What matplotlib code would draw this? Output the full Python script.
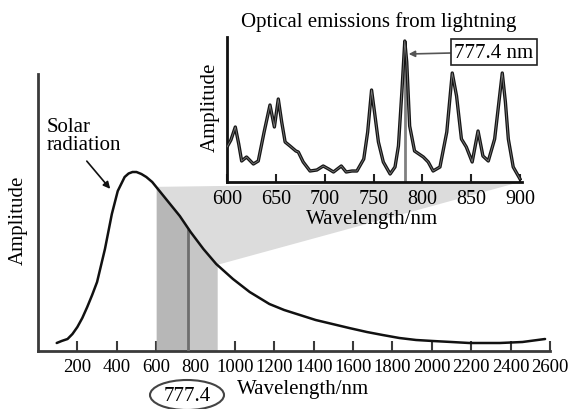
import numpy as np
import matplotlib
matplotlib.use("Agg")
import matplotlib.pyplot as plt
from matplotlib.patches import Polygon, Ellipse

plt.rcParams['font.family'] = ['Liberation Serif', 'DejaVu Serif']

# ---------------- data ----------------
# solar radiation curve (main chart), amplitude in arbitrary units
solar_nm = [95, 120, 150, 175, 200, 225, 250, 275, 300, 340, 375, 405, 440, 460, 480, 500,
            525, 550, 580, 650, 720, 775, 840, 905, 990, 1075, 1175, 1250, 1330, 1410,
            1495, 1580, 1670, 1750, 1835, 1920, 2005, 2100, 2190, 2270, 2345, 2460, 2575]
solar_amp = [8, 10, 12, 17, 24, 33, 44, 56, 69, 102, 137, 160, 174, 177.5, 179, 179,
             177, 174, 169, 152, 135, 119, 102, 87, 72, 59, 47, 41, 36, 31,
             27, 23, 19, 16, 13, 11, 10, 9, 8, 8, 8, 9, 12]

main_ticks = [200, 400, 600, 800, 1000, 1200, 1400, 1600, 1800, 2000, 2200, 2400, 2600]
band_range = [600, 910]
marker_main_nm = 763

# lightning optical emission spectrum (inset)
spec_nm = [600, 604, 608.5, 612, 615, 620, 624, 627, 632, 638, 644, 648.5, 652.5, 656,
           659.5, 664.5, 670.5, 673, 678, 685, 692, 698.5, 704, 709, 713, 717, 722, 728,
           733, 740, 744, 748, 751, 755, 760, 767, 772, 775.5, 779, 782, 784, 787, 792,
           801, 806, 811, 818, 825, 830.6, 835, 840, 845, 851, 857, 862, 867.5, 874,
           881.8, 885, 888, 893, 900]
spec_amp = [35, 42, 55, 38, 21, 25, 21, 18, 21, 50, 77, 55, 83, 60,
            40, 36, 31, 30, 20, 11, 12, 16, 13, 10, 13, 16, 10, 11,
            11, 23, 50, 92, 70, 40, 20, 8, 15, 36, 90, 141, 120, 56, 31,
            25, 20, 11, 15, 50, 109, 86, 43, 35, 20, 51, 26, 21, 43,
            109, 80, 43, 15, 3]
inset_ticks = [600, 650, 700, 750, 800, 850, 900]
marker_inset_nm = 782

# ---------------- figure ----------------
W, H = 568, 410
fig = plt.figure(figsize=(W / 100, H / 100), dpi=100)


def fx(p):
    return p / W


def fy(p):
    return 1 - p / H


ax = fig.add_axes([fx(38), fy(352), (550 - 38) / W, (352 - 75) / H])
ax.set_xlim(0, 2600)
ax.set_ylim(0, 277)
for s in ['top', 'right']:
    ax.spines[s].set_visible(False)
for s in ['left', 'bottom']:
    ax.spines[s].set_color('#3a3a3a')
    ax.spines[s].set_linewidth(2)
ax.set_yticks([])
ax.set_xticks(main_ticks)
ax.set_xticklabels([str(t) for t in main_ticks])
ax.tick_params(axis='x', direction='in', length=7, width=1.5, color='#3a3a3a',
               labelsize=13.5, pad=5)

ax.plot(solar_nm, solar_amp, color='#111111', lw=1.8, zorder=4,
        solid_joinstyle='round', solid_capstyle='round')

# shaded band under the curve
xs1 = np.array([band_range[0]] + [v for v in solar_nm if band_range[0] < v < marker_main_nm] + [marker_main_nm])
ax.fill_between(xs1, 0, np.interp(xs1, solar_nm, solar_amp), color='#b7b7b7', lw=0, zorder=2)
xs2 = np.array([marker_main_nm] + [v for v in solar_nm if marker_main_nm < v < band_range[1]] + [band_range[1]])
ax.fill_between(xs2, 0, np.interp(xs2, solar_nm, solar_amp), color='#c6c6c6', lw=0, zorder=2)
ax.vlines(marker_main_nm, 0, np.interp(marker_main_nm, solar_nm, solar_amp),
          color='#6e6e6e', lw=2, zorder=3)

# inset
axi = fig.add_axes([fx(227), fy(183), (522 - 227) / W, (183 - 38) / H])
axi.set_facecolor('none')
axi.set_xlim(600, 902)
axi.set_ylim(0, 145)
for s in ['top', 'right']:
    axi.spines[s].set_visible(False)
for s in ['left', 'bottom']:
    axi.spines[s].set_color('#111111')
    axi.spines[s].set_linewidth(2)
axi.set_yticks([])
axi.set_xticks(inset_ticks)
axi.set_xticklabels([str(t) for t in inset_ticks])
axi.tick_params(axis='x', direction='in', length=6, width=1.5, color='#222222',
                labelsize=14.5, pad=5)
axi.vlines(marker_inset_nm, 0, 140, color='#808080', lw=2, zorder=1)
axi.plot(spec_nm, spec_amp, color='#151515', lw=2.4, zorder=3, solid_joinstyle='round')
axi.plot(spec_nm, spec_amp, color='#7a7a7a', lw=0.6, zorder=4, solid_joinstyle='round')

# connecting wedge
to_fig = fig.transFigure.inverted()
p1 = to_fig.transform(ax.transData.transform((band_range[0], np.interp(band_range[0], solar_nm, solar_amp))))
p2 = to_fig.transform(ax.transData.transform((band_range[1], np.interp(band_range[1], solar_nm, solar_amp))))
p3 = to_fig.transform(axi.transData.transform((900, 0)))
wedge = Polygon([p1, p3, p2], closed=True, transform=fig.transFigure, facecolor='#dcdcdc',
                edgecolor='none', clip_on=False, zorder=1)
ax.add_patch(wedge)

# texts
fs = 15
fig.text(fx(379), fy(22), 'Optical emissions from lightning', ha='center', va='center', fontsize=fs)
fig.text(fx(210), fy(107), 'Amplitude', ha='center', va='center', rotation=90, fontsize=fs)
fig.text(fx(372), fy(220), 'Wavelength/nm', ha='center', va='center', fontsize=fs)
fig.text(fx(18), fy(220), 'Amplitude', ha='center', va='center', rotation=90, fontsize=fs)
fig.text(fx(303), fy(390), 'Wavelength/nm', ha='center', va='center', fontsize=fs)
fig.text(fx(47), fy(127), 'Solar', ha='left', va='center', fontsize=fs)
fig.text(fx(47), fy(146), 'radiation', ha='left', va='center', fontsize=fs)
fig.text(fx(187), fy(397), '777.4', ha='center', va='center', fontsize=fs)
fig.patches.append(Ellipse((fx(187), fy(396)), 74 / W, 30 / H, transform=fig.transFigure,
                           facecolor='none', edgecolor='#444444', lw=1.5))

ax.annotate('', xy=(fx(112), fy(192)), xycoords='figure fraction',
            xytext=(fx(85), fy(160)), textcoords='figure fraction',
            arrowprops=dict(arrowstyle='-|>', color='#111111', lw=1.2, mutation_scale=10))

axi.annotate('777.4 nm', xy=(786, 128), xycoords='data',
             xytext=(fx(494), fy(53)), textcoords='figure fraction',
             ha='center', va='center', fontsize=fs, annotation_clip=False,
             bbox=dict(boxstyle='square,pad=0.18', fc='white', ec='#222222', lw=1.2),
             arrowprops=dict(arrowstyle='-|>', color='#555555', lw=1.2, mutation_scale=9,
                             shrinkA=0, shrinkB=0))

fig.savefig('out.png', dpi=100)
